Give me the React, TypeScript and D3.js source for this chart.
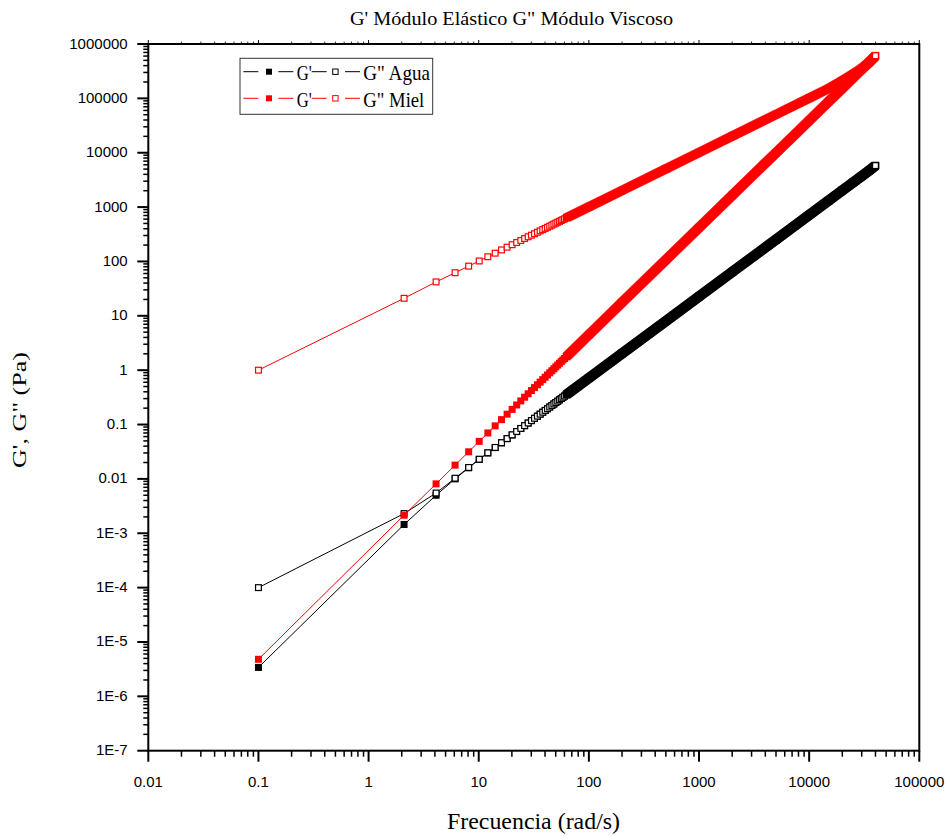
import React from "react";
import * as d3 from "d3";

// ---------- data ----------
const freq = [0.1, 2.1, 4.1, 6.1, 8.1, 10.1, 12.1, 14.1, 16.1, 18.1, 20.1, 22.1, 24.1, 26.1, 28.1, 30.1, 32.1, 34.1, 36.1, 38.1, 40.1, 42.1, 44.1, 46.1, 48.1, 50.1, 52.1, 54.1, 56.1, 58.1, 60.1];
const aguaGp = [3.4e-6, 1.45e-3, 5.0e-3, 0.0100, 0.0160, 0.0228, 0.0300, 0.0376, 0.0460, 0.0549, 0.0642, 0.0741, 0.0844, 0.0951, 0.1062, 0.1178, 0.1298, 0.1421, 0.1548, 0.1679, 0.1813, 0.1951, 0.2092, 0.2236, 0.2383, 0.2534, 0.2688, 0.2845, 0.3004, 0.3167, 0.3333];
const aguaGpp = [1.0e-4, 2.3e-3, 5.5e-3, 0.0103, 0.0162, 0.023, 0.0302, 0.0379, 0.0463, 0.0552, 0.0646, 0.0745, 0.0848, 0.0955, 0.1067, 0.1183, 0.1303, 0.1427, 0.1554, 0.1685, 0.1819, 0.1957, 0.2099, 0.2243, 0.2390, 0.2541, 0.2696, 0.2852, 0.3011, 0.3174, 0.3338];
const mielGp = [4.8e-6, 2.15e-3, 8.1e-3, 0.0179, 0.0315, 0.049, 0.070, 0.0946, 0.123, 0.155, 0.190, 0.229, 0.272, 0.318, 0.368, 0.421, 0.478, 0.539, 0.603, 0.670, 0.741, 0.815, 0.894, 0.976, 1.06, 1.15, 1.24, 1.34, 1.44, 1.54, 1.64];
const mielGpp = [1.0, 21, 42, 62, 82, 102, 122, 142, 163, 183, 203, 223, 243, 264, 284, 304, 324, 344, 365, 385, 405, 425, 445, 466, 486, 506, 526, 546, 567, 587, 607];

// dense part of the sweep (markers merge into a solid band)
const bandFreq = [60.1, 100, 200, 500, 1000, 2000, 5000, 10000, 15000, 20000, 25000, 30000, 35000, 40000];
const aguaGpBand = [0.333, 0.715, 2.02, 7.98, 22.6, 63.9, 252, 714, 1312, 2020, 2825, 3710, 4680, 5780];
const aguaGppBand = [0.334, 0.717, 2.03, 8.01, 22.7, 64.1, 253, 717, 1317, 2027, 2832, 3724, 4690, 5800];
const mielGpBand = [1.64, 4.48, 17.6, 107, 418, 1640, 9970, 39100, 86800, 153000, 237500, 340000, 460700, 600000];
const mielGppBand = [607, 1010, 2020, 5050, 10100, 20200, 50500, 101000, 152000, 212000, 280000, 355000, 460000, 610000];

const xTicks = [0.01, 0.1, 1, 10, 100, 1000, 10000, 100000];
const xTickLabels = ["0.01", "0.1", "1", "10", "100", "1000", "10000", "100000"];
const yTicks = [1e-7, 1e-6, 1e-5, 1e-4, 1e-3, 0.01, 0.1, 1, 10, 100, 1000, 10000, 100000, 1000000];
const yTickLabels = ["1E-7", "1E-6", "1E-5", "1E-4", "1E-3", "0.01", "0.1", "1", "10", "100", "1000", "10000", "100000", "1000000"];

const seriesNames = ["G' Agua", "G\" Agua", "G' Miel", "G\" Miel"];

// ---------- layout ----------
const WIDTH = 948;
const HEIGHT = 836;
const M = { left: 148.3, right: 919.3, top: 44, bottom: 750.7 };
const SANS = "Arial, 'Liberation Sans', sans-serif";
const SERIF = "'Times New Roman', 'Liberation Serif', serif";
const RED = "#ff0000";

const x = d3.scaleLog().domain([0.01, 1e5]).range([M.left, M.right]);
const y = d3.scaleLog().domain([1e-7, 1e6]).range([M.bottom, M.top]);

function minorTicks(scale: any) {
  const [a, b] = scale.domain();
  const out: number[] = [];
  for (let e = Math.round(Math.log10(a)); e < Math.round(Math.log10(b)); e++) {
    for (let k = 2; k <= 9; k++) out.push(k * Math.pow(10, e));
  }
  return out;
}

type Series = {
  f: number[];
  v: number[];
  bf: number[];
  bv: number[];
  color: string;
  filled: boolean;
};

const series: Series[] = [
  { f: freq, v: aguaGp, bf: bandFreq, bv: aguaGpBand, color: "#000000", filled: true },
  { f: freq, v: aguaGpp, bf: bandFreq, bv: aguaGppBand, color: "#000000", filled: false },
  { f: freq, v: mielGp, bf: bandFreq, bv: mielGpBand, color: RED, filled: true },
  { f: freq, v: mielGpp, bf: bandFreq, bv: mielGppBand, color: RED, filled: false },
];

const MS = 7; // marker size
const BAND_H = 3.6; // half size of swept square in the dense band

const lineGen = d3.line<[number, number]>();

function sweptBand(pts: [number, number][], h: number) {
  return d3.pairs(pts).map(([a, b]) => {
    const corners: [number, number][] = [];
    for (const p of [a, b]) {
      corners.push([p[0] - h, p[1] - h], [p[0] + h, p[1] - h], [p[0] + h, p[1] + h], [p[0] - h, p[1] + h]);
    }
    const hull = d3.polygonHull(corners)!;
    return "M" + hull.map((c) => c.join(",")).join("L") + "Z";
  });
}

function Marker({ cx, cy, color, filled, size = MS }: any) {
  if (filled) {
    return <rect x={cx - size / 2} y={cy - size / 2} width={size} height={size} fill={color} />;
  }
  const s = size - 1.2;
  return <rect x={cx - s / 2} y={cy - s / 2} width={s} height={s} fill="#fff" stroke={color} strokeWidth={1.2} />;
}

function SeriesView({ s }: { s: Series }) {
  const pts: [number, number][] = s.f.map((f, i) => [x(f), y(s.v[i])]);
  const bandPts: [number, number][] = s.bf.map((f, i) => [x(f), y(s.bv[i])]);
  const all = pts.concat(bandPts.slice(1));
  // start the solid band slightly after the last separate marker so that it overlaps it
  const bandStart: [number, number] = [
    bandPts[0][0] + (bandPts[1][0] - bandPts[0][0]) * 0.08,
    bandPts[0][1] + (bandPts[1][1] - bandPts[0][1]) * 0.08,
  ];
  const polys = sweptBand([bandStart, ...bandPts.slice(1)], BAND_H);
  const last = bandPts[bandPts.length - 1];
  return (
    <g>
      <path d={lineGen(all)!} fill="none" stroke={s.color} strokeWidth={1} />
      {pts.map((p, i) => (
        <Marker key={i} cx={p[0]} cy={p[1]} color={s.color} filled={s.filled} />
      ))}
      {polys.map((d, i) => (
        <path key={i} d={d} fill={s.color} stroke={s.color} strokeWidth={0.3} />
      ))}
      {!s.filled && <Marker cx={last[0]} cy={last[1]} color={s.color} filled={false} />}
    </g>
  );
}

function LegendRow({ yRow, color, label }: { yRow: number; color: string; label: string }) {
  return (
    <g>
      <line x1={243.3} x2={258.3} y1={yRow} y2={yRow} stroke={color} strokeWidth={1} />
      <rect x={266} y={yRow - 3} width={6} height={6} fill={color} />
      <line x1={278.3} x2={293.3} y1={yRow} y2={yRow} stroke={color} strokeWidth={1} />
      <text x={296.7} y={yRow + 8.5} fontFamily={SERIF} fontSize={22} textLength={15} lengthAdjust="spacingAndGlyphs">
        G'
      </text>
      <line x1={311.7} x2={326.7} y1={yRow} y2={yRow} stroke={color} strokeWidth={1} />
      <rect x={332.7} y={yRow - 2.7} width={5.4} height={5.4} fill="#fff" stroke={color} strokeWidth={1} />
      <line x1={345} x2={360} y1={yRow} y2={yRow} stroke={color} strokeWidth={1} />
      <text x={363.3} y={yRow + 8.5} fontFamily={SERIF} fontSize={22} textLength={label === "Agua" ? 66.7 : 61} lengthAdjust="spacingAndGlyphs">
        {"G\" " + label}
      </text>
    </g>
  );
}

export default function App() {
  const xMinor = minorTicks(x);
  const yMinor = minorTicks(y);
  return (
    <svg width={WIDTH} height={HEIGHT} style={{ display: "block", position: "absolute", left: 0, top: 0, background: "#fff" }}>
      <rect x={0} y={0} width={WIDTH} height={HEIGHT} fill="#fff" />
      {/* title */}
      <text x={511.5} y={25} textAnchor="middle" fontFamily={SERIF} fontSize={19} textLength={323} lengthAdjust="spacingAndGlyphs">
        G'  Módulo Elástico  G" Módulo Viscoso
      </text>

      {/* series */}
      {series.map((s, i) => (
        <SeriesView key={seriesNames[i]} s={s} />
      ))}

      {/* frame */}
      <rect x={M.left} y={M.top} width={M.right - M.left} height={M.bottom - M.top} fill="none" stroke="#000" strokeWidth={2} />

      {/* x axis ticks */}
      {xTicks.map((t, i) => (
        <g key={"xt" + i}>
          <line x1={x(t)} x2={x(t)} y1={M.bottom} y2={M.bottom + 11} stroke="#000" strokeWidth={2} />
          <line x1={x(t)} x2={x(t)} y1={M.top} y2={M.top - 4} stroke="#000" strokeWidth={1} />
          <text x={x(t)} y={786.5} textAnchor="middle" fontFamily={SANS} fontSize={15}>
            {xTickLabels[i]}
          </text>
        </g>
      ))}
      {xMinor.map((t, i) => (
        <g key={"xm" + i}>
          <line x1={x(t)} x2={x(t)} y1={M.bottom} y2={M.bottom + 6} stroke="#000" strokeWidth={1.5} />
          <line x1={x(t)} x2={x(t)} y1={M.top} y2={M.top - 2.5} stroke="#000" strokeWidth={0.8} />
        </g>
      ))}

      {/* y axis ticks */}
      {yTicks.map((t, i) => (
        <g key={"yt" + i}>
          <line x1={M.left - 11} x2={M.left} y1={y(t)} y2={y(t)} stroke="#000" strokeWidth={2} />
          <text x={127.7} y={y(t) + 4.5} textAnchor="end" fontFamily={SANS} fontSize={15}>
            {yTickLabels[i]}
          </text>
        </g>
      ))}
      {yMinor.map((t, i) => (
        <line key={"ym" + i} x1={M.left - 5} x2={M.left} y1={y(t)} y2={y(t)} stroke="#000" strokeWidth={1.5} />
      ))}

      {/* axis titles */}
      <text x={533.5} y={829} textAnchor="middle" fontFamily={SERIF} fontSize={24} textLength={173} lengthAdjust="spacingAndGlyphs">
        Frecuencia (rad/s)
      </text>
      <text transform="translate(26,410) rotate(-90)" textAnchor="middle" fontFamily={SERIF} fontSize={19} textLength={116} lengthAdjust="spacingAndGlyphs">
        G', G" (Pa)
      </text>

      {/* legend */}
      <rect x={240} y={58.3} width={192.7} height={56} fill="#fff" stroke="#333" strokeWidth={1} />
      <LegendRow yRow={71.7} color="#000000" label="Agua" />
      <LegendRow yRow={98.3} color={RED} label="Miel" />
    </svg>
  );
}
